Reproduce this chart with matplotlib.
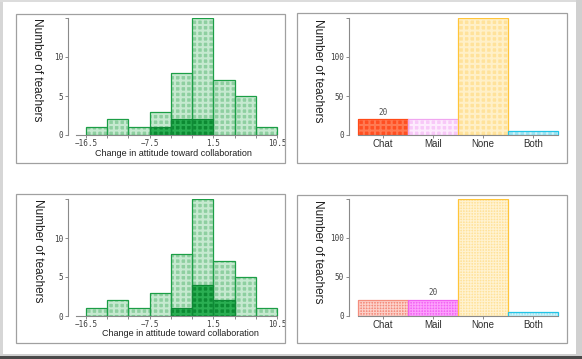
import matplotlib
matplotlib.use("Agg")
import matplotlib.pyplot as plt
from matplotlib.patches import Rectangle

# ---- data ----
bin_edges = [-16.5, -13.5, -10.5, -7.5, -4.5, -1.5, 1.5, 4.5, 7.5, 10.5]
counts_all = [1, 2, 1, 3, 8, 15, 7, 5, 1]
counts_sel_top = [0, 0, 0, 1, 2, 2, 0, 0, 0]
counts_sel_bottom = [0, 0, 0, 0, 1, 4, 2, 0, 0]
labeled_edges = [-16.5, -7.5, 1.5, 10.5]

categories = ["Chat", "Mail", "None", "Both"]
cat_counts = [20, 20, 150, 5]

plt.rcParams["hatch.linewidth"] = 1.5

W, H = 582, 359
fig = plt.figure(figsize=(W / 100, H / 100), dpi=100)
fig.patch.set_facecolor("white")

sans = "Liberation Sans"
mono = "DejaVu Sans Mono"


def box(l, t, r, b):
    return [l / W, 1 - b / H, (r - l) / W, (b - t) / H]


def frame_rect(l, t, r, b, **kw):
    fig.add_artist(Rectangle((l / W, 1 - b / H), (r - l) / W, (b - t) / H,
                             transform=fig.transFigure, **kw))


# window frame
frame_rect(0, 0, 3, H, facecolor="#d6d6d6", edgecolor="none")
frame_rect(0, 0, W, 2, facecolor="#dcdcdc", edgecolor="none")
frame_rect(576, 0, W, H, facecolor="#d0d0d0", edgecolor="none")
frame_rect(0, 354, W, H, facecolor="#d0d0d0", edgecolor="none")
frame_rect(0, 356, W, H, facecolor="#4a4a4a", edgecolor="none")

# panel boxes
for l, t, r, b in [(16, 14, 285, 163), (297, 13, 567, 163),
                   (16, 194, 285, 343), (297, 195, 567, 343)]:
    frame_rect(l, t, r, b, facecolor="none", edgecolor="#a0a0a0", linewidth=0.9)


def hatched_bar(ax, x, h, width, face, hatch_col, edge, hatch, hlw, align="center"):
    bars = ax.bar(x, h, width=width, align=align, color=face, edgecolor=hatch_col,
                  linewidth=0, hatch=hatch, zorder=2)
    for p in bars:
        if hasattr(p, "set_hatch_linewidth"):
            p.set_hatch_linewidth(hlw)
    ax.bar(x, h, width=width, align=align, facecolor="none", edgecolor=edge,
           linewidth=0.9, zorder=3)


def style_axes(ax):
    for s in ["top", "right"]:
        ax.spines[s].set_visible(False)
    for s in ["left", "bottom"]:
        ax.spines[s].set_color("#8a8a8a")
        ax.spines[s].set_linewidth(0.8)
    ax.set_facecolor("none")
    ax.tick_params(which="both", direction="out", length=2.5, width=0.7,
                   color="#8a8a8a", labelcolor="#404040", pad=1)


def histogram(y0, y15, label_y, xlabel_x, ylab_x, sel):
    ax = fig.add_axes(box(68, y15, 280, y0))
    widths = [bin_edges[i + 1] - bin_edges[i] for i in range(len(counts_all))]
    nonzero = [i for i in range(len(sel)) if sel[i] > 0]
    hatched_bar(ax, bin_edges[:-1], counts_all, widths, "#8ecfa0", "#c6e9d0",
                "#1c9e46", "+++", 1.5, align="edge")
    hatched_bar(ax, [bin_edges[i] for i in nonzero], [sel[i] for i in nonzero],
                [widths[i] for i in nonzero], "#0c8a32", "#2aae52",
                "#0f8a36", "+++", 1.5, align="edge")
    style_axes(ax)
    ax.set_xlim(-19.04, 10.92)
    ax.set_ylim(0, 15)
    ax.spines["bottom"].set_bounds(-17.9, 10.5)
    ax.spines["left"].set_bounds(0, 15)
    ax.set_yticks([0, 5, 10, 15])
    ax.set_yticklabels(["0", "5", "10", ""], fontfamily=mono, fontsize=5.5)
    ax.set_xticks(labeled_edges)
    ax.set_xticklabels([f"{v:.1f}".replace("-", "\u2212") for v in labeled_edges],
                       fontfamily=mono, fontsize=5.5)
    ax.set_xticks(bin_edges, minor=True)
    ax.tick_params(axis="x", pad=0.5)
    fig.text(xlabel_x / W, 1 - label_y / H, "Change in attitude toward collaboration",
             ha="center", va="center", fontfamily=sans, fontsize=6.5, color="#202020")
    fig.text(ylab_x / W, 1 - y15 / H, "Number of teachers", rotation=270,
             ha="center", va="top", fontfamily=sans, fontsize=8.5, color="#202020")
    return ax


def bar_chart(y0, y150, faces, hatch_cols, edges, hatch, hlw, val_idx, ylab_x):
    ax = fig.add_axes(box(349, y150, 560, y0))
    pos = list(range(len(categories)))
    for i in pos:
        hatched_bar(ax, [i], [cat_counts[i]], 1.0, faces[i], hatch_cols[i],
                    edges[i], hatch, hlw)
    style_axes(ax)
    ax.set_xlim(-0.674, 3.54)
    ax.set_ylim(0, 150)
    ax.spines["bottom"].set_bounds(-0.5, 3.5)
    ax.spines["left"].set_bounds(0, 150)
    ax.set_yticks([0, 50, 100, 150])
    ax.set_yticklabels(["0", "50", "100", ""], fontfamily=mono, fontsize=5.5)
    ax.set_xticks(pos)
    ax.set_xticklabels(categories, fontfamily=sans, fontsize=7, color="#303030")
    ax.tick_params(axis="x", pad=0.5)
    ax.annotate(str(cat_counts[val_idx]), (val_idx, cat_counts[val_idx]),
                xytext=(0, 2), textcoords="offset points", ha="center", va="bottom",
                fontfamily=mono, fontsize=5.5, color="#505050")
    fig.text(ylab_x / W, 1 - (y150 + 1) / H, "Number of teachers", rotation=270,
             ha="center", va="top", fontfamily=sans, fontsize=8.5, color="#202020")
    return ax


histogram(135, 18, 154, 173, 37, counts_sel_top)
histogram(316, 199, 334, 180, 38, counts_sel_bottom)

bar_chart(135, 18,
          ["#ff4f22", "#f8c8f8", "#ffe29a", "#9ee4f2"],
          ["#ff7a52", "#fdebfd", "#fff0c8", "#d2f4fa"],
          ["#ff4a18", "#f0a6f0", "#ffc53a", "#22c4e6"],
          "+++", 1.5, 0, 318)
bar_chart(315.7, 199,
          ["#f48c7c", "#f464f4", "#ffe29a", "#9ee4f2"],
          ["#fcd0c8", "#fca0fc", "#fff2d0", "#d2f4fa"],
          ["#f48e7e", "#f060f0", "#ffc53a", "#22c4e6"],
          "++++++", 0.8, 1, 318)

fig.savefig("out.png", dpi=100)
